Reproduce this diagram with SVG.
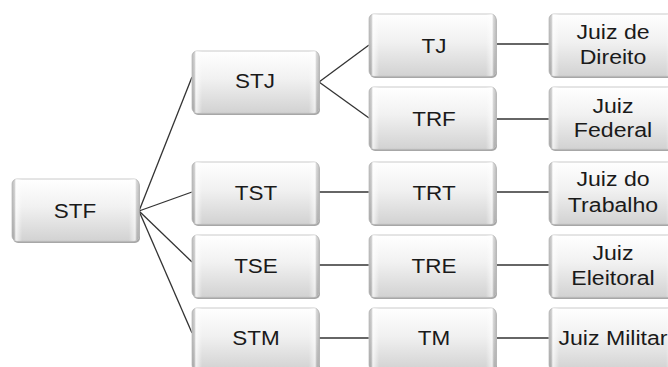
<svg xmlns="http://www.w3.org/2000/svg" width="668" height="367" viewBox="0 0 668 367">
<defs>
<linearGradient id="gv" x1="0" y1="0" x2="0" y2="1">
<stop offset="0" stop-color="#ffffff"/>
<stop offset="0.45" stop-color="#f1f1f1"/>
<stop offset="1" stop-color="#d2d2d2"/>
</linearGradient>
<linearGradient id="gh" x1="0" y1="0" x2="1" y2="0">
<stop offset="0" stop-color="#000" stop-opacity="0.12"/>
<stop offset="0.03" stop-color="#fff" stop-opacity="0.7"/>
<stop offset="0.08" stop-color="#fff" stop-opacity="0"/>
<stop offset="0.92" stop-color="#fff" stop-opacity="0"/>
<stop offset="0.97" stop-color="#fff" stop-opacity="0.6"/>
<stop offset="1" stop-color="#000" stop-opacity="0.1"/>
</linearGradient>
<g id="box">
<rect x="1" y="2" width="127" height="62" rx="5" fill="#8a8a8a" opacity="0.75"/>
<rect x="0" y="0" width="127" height="62" rx="5" fill="url(#gv)" stroke="#cacaca" stroke-width="1"/>
<rect x="0" y="0" width="127" height="62" rx="5" fill="url(#gh)"/>
</g>
</defs>
<style>
text{font-family:"Liberation Sans",Arial,sans-serif;font-size:21px;fill:#1a1a1a;text-anchor:middle}
.c line{stroke:#333;stroke-width:1.3}
</style>
<rect width="668" height="367" fill="#fff"/>
<g class="c" id="connectors">
<line x1="139" y1="211" x2="192" y2="77"/>
<line x1="139" y1="211" x2="192" y2="192"/>
<line x1="139" y1="211" x2="192" y2="262"/>
<line x1="139" y1="211" x2="192" y2="333"/>
<line x1="319" y1="82" x2="369" y2="45"/>
<line x1="319" y1="82" x2="369" y2="118"/>
<line x1="319" y1="192" x2="369" y2="192"/>
<line x1="319" y1="265" x2="369" y2="265"/>
<line x1="319" y1="338" x2="369" y2="338"/>
<line x1="497" y1="44" x2="549" y2="44"/>
<line x1="497" y1="119" x2="549" y2="119"/>
<line x1="497" y1="192" x2="549" y2="192"/>
<line x1="497" y1="265" x2="549" y2="265"/>
<line x1="497" y1="338" x2="549" y2="338"/>
</g>
<g id="stf"><use href="#box" x="12" y="179"/><text transform="translate(75,218) scale(1.07,1)">STF</text></g>
<g id="stj"><use href="#box" x="192" y="51"/><text transform="translate(255,88) scale(1.07,1)">STJ</text></g>
<g id="tst"><use href="#box" x="192" y="162"/><text transform="translate(256,200) scale(1.07,1)">TST</text></g>
<g id="tse"><use href="#box" x="192" y="235"/><text transform="translate(256,273) scale(1.07,1)">TSE</text></g>
<g id="stm"><use href="#box" x="192" y="308"/><text transform="translate(256,345) scale(1.07,1)">STM</text></g>
<g id="tj"><use href="#box" x="369" y="14"/><text transform="translate(434,53) scale(1.07,1)">TJ</text></g>
<g id="trf"><use href="#box" x="369" y="87"/><text transform="translate(434,126) scale(1.07,1)">TRF</text></g>
<g id="trt"><use href="#box" x="369" y="162"/><text transform="translate(434,200) scale(1.07,1)">TRT</text></g>
<g id="tre"><use href="#box" x="369" y="235"/><text transform="translate(434,273) scale(1.07,1)">TRE</text></g>
<g id="tm"><use href="#box" x="369" y="308"/><text transform="translate(434,345) scale(1.07,1)">TM</text></g>
<g id="juiz-direito"><use href="#box" x="549" y="14"/><text transform="translate(613,39) scale(1.1,1)">Juiz de</text><text transform="translate(613,64) scale(1.1,1)">Direito</text></g>
<g id="juiz-federal"><use href="#box" x="549" y="87"/><text transform="translate(613,113) scale(1.1,1)">Juiz</text><text transform="translate(613,137) scale(1.1,1)">Federal</text></g>
<g id="juiz-trabalho"><use href="#box" x="549" y="162"/><text transform="translate(613,186) scale(1.1,1)">Juiz do</text><text transform="translate(613,212) scale(1.1,1)">Trabalho</text></g>
<g id="juiz-eleitoral"><use href="#box" x="549" y="235"/><text transform="translate(613,260) scale(1.1,1)">Juiz</text><text transform="translate(613,285) scale(1.1,1)">Eleitoral</text></g>
<g id="juiz-militar"><use href="#box" x="549" y="308"/><text transform="translate(613,345) scale(1.1,1)">Juiz Militar</text></g>
</svg>
